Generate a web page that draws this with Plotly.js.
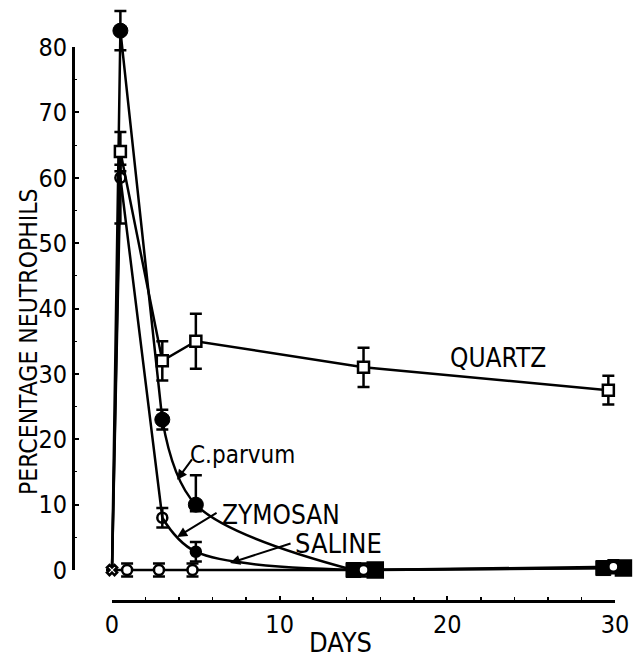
<!DOCTYPE html>
<html>
<head>
<meta charset="utf-8">
<script src="https://cdn.plot.ly/plotly-3.0.1.min.js"></script>
<style>html,body{margin:0;padding:0;background:#fff;}#chart{width:635px;height:659px;}</style>
</head>
<body>
<div id="chart"></div>
<script>
// ---- data ----
const quartzDays = [0, 0.5, 3, 5, 15, 29.6];
const quartzPct = [0, 64, 32, 35, 31, 27.5];
const quartzErr = [0, 3, 3, 4.2, 3, 2.2];

const cparvumDays = [0, 0.5, 3, 5, 14.4, 29.3];
const cparvumPct = [0, 82.5, 23, 10, 0, 0.3];
const cparvumErrPlus = [0, 3, 1.5, 4.5, 1, 1];
const cparvumErrMinus = [0, 3, 1.5, 1, 1, 1];

const zymosanDays = [0, 0.5, 3, 5, 15.7, 30.5];
const zymosanPct = [0, 60, 8, 2.8, 0, 0.3];
const zymosanErrPlus = [0, 2, 1.5, 1.5, 1, 1];
const zymosanErrMinus = [0, 7, 1.5, 1.5, 1, 1];

const salineDays = [0, 0.9, 2.8, 4.8, 15, 29.9];
const salinePct = [0, 0, 0, 0, 0, 0.5];
const salineErr = [0, 1, 1, 1, 1, 1];

const xTickVals = [0, 10, 20, 30];
const yTickVals = [0, 10, 20, 30, 40, 50, 60, 70, 80];

const labels = [
  {text: 'QUARTZ', x: 23.0, y: 32.4, size: 26},
  {text: 'C.parvum', x: 7.8, y: 17.6, size: 24},
  {text: 'ZYMOSAN', x: 10.1, y: 8.4, size: 26},
  {text: 'SALINE', x: 13.5, y: 4.1, size: 27}
];
const arrows = [
  {x: 3.88, y: 13.8, ax: 16, ay: -22},
  {x: 3.88, y: 5.05, ax: 41, ay: -25},
  {x: 7.04, y: 1.07, ax: 62, ay: -20}
];

// ---- styling ----
const FONT = 'DejaVu Sans Condensed, DejaVu Sans, sans-serif';
const K = '#000';
const LW = 2.5;
const CLEAR = 'rgba(0,0,0,0)';

function seg(arr, a, b) { return arr.slice(a, b + 1); }

const traces = [];
function lineTrace(x, y, shape) {
  return {x: x, y: y, mode: 'lines', line: {color: K, width: LW, shape: shape || 'linear', smoothing: 1},
          hoverinfo: 'skip', showlegend: false};
}
traces.push(lineTrace(quartzDays, quartzPct));
traces.push(lineTrace(seg(cparvumDays, 0, 2), seg(cparvumPct, 0, 2)));
traces.push(lineTrace(seg(cparvumDays, 2, 4), seg(cparvumPct, 2, 4), 'spline'));
traces.push(lineTrace(seg(cparvumDays, 4, 5), seg(cparvumPct, 4, 5)));
traces.push(lineTrace(seg(zymosanDays, 0, 2), seg(zymosanPct, 0, 2)));
traces.push(lineTrace(seg(zymosanDays, 2, 4), seg(zymosanPct, 2, 4), 'spline'));
traces.push(lineTrace(seg(zymosanDays, 4, 5), seg(zymosanPct, 4, 5)));
traces.push(lineTrace(salineDays, salinePct));

// markers (day-0 start points carry no marker, except the saline cross)
traces.push({
  x: seg(zymosanDays, 1, 5), y: seg(zymosanPct, 1, 5), mode: 'markers', showlegend: false, cliponaxis: false,
  marker: {symbol: ['circle', 'circle', 'circle', 'square', 'square'], size: [10, 10, 10, 15, 15], opacity: 1,
           color: [CLEAR, CLEAR, K, K, K], line: {color: K, width: LW}},
  error_y: {type: 'data', symmetric: false, array: seg(zymosanErrPlus, 1, 5), arrayminus: seg(zymosanErrMinus, 1, 5),
            color: K, thickness: 2.5, width: 6}
});
traces.push({
  x: seg(cparvumDays, 1, 5), y: seg(cparvumPct, 1, 5), mode: 'markers', showlegend: false, cliponaxis: false,
  marker: {symbol: ['circle', 'circle', 'circle', 'square', 'square'], size: 15, opacity: 1, color: K, line: {color: K, width: 1}},
  error_y: {type: 'data', symmetric: false, array: seg(cparvumErrPlus, 1, 5), arrayminus: seg(cparvumErrMinus, 1, 5),
            color: K, thickness: 2.5, width: 6}
});
traces.push({
  x: seg(quartzDays, 1, 5), y: seg(quartzPct, 1, 5), mode: 'markers', showlegend: false, cliponaxis: false,
  marker: {symbol: 'square', size: 11, opacity: 1, color: '#fff', line: {color: K, width: LW}},
  error_y: {type: 'data', array: seg(quartzErr, 1, 5), color: K, thickness: 2.5, width: 6}
});
traces.push({
  x: salineDays, y: salinePct, mode: 'markers', showlegend: false, cliponaxis: false,
  marker: {symbol: ['x', 'circle', 'circle', 'circle', 'circle', 'circle'], size: [9, 10, 10, 10, 10, 10],
           opacity: 1, color: '#fff', line: {color: K, width: LW}},
  error_y: {type: 'data', array: salineErr, color: K, thickness: 2.5, width: 6}
});
// empty trace that carries the drawn axes
traces.push({x: [], y: [], xaxis: 'x2', yaxis: 'y2', mode: 'markers', showlegend: false});

const annotations = [];
labels.forEach(l => annotations.push({
  x: l.x, y: l.y, xref: 'x', yref: 'y', text: l.text, showarrow: false,
  xanchor: 'center', yanchor: 'middle',
  font: {family: FONT, size: l.size, color: K}
}));
arrows.forEach(a => annotations.push({
  x: a.x, y: a.y, xref: 'x', yref: 'y', text: '', showarrow: true,
  ax: a.ax, ay: a.ay, arrowhead: 2, arrowsize: 1, arrowwidth: 2, arrowcolor: K
}));
annotations.push({
  x: 28 / 635, y: (659 - 342) / 659, xref: 'paper', yref: 'paper', text: 'PERCENTAGE NEUTROPHILS',
  textangle: -90, showarrow: false, xanchor: 'center', yanchor: 'middle',
  font: {family: FONT, size: 24.5, color: K}
});
annotations.push({
  x: 340 / 635, y: 0, xref: 'paper', yref: 'paper', text: 'DAYS',
  showarrow: false, xanchor: 'center', yanchor: 'bottom', borderpad: 0,
  font: {family: FONT, size: 27, color: K}
});

const layout = {
  width: 635, height: 659,
  margin: {l: 0, r: 0, t: 0, b: 0, pad: 0},
  paper_bgcolor: '#fff', plot_bgcolor: 'rgba(0,0,0,0)',
  showlegend: false,
  xaxis: {domain: [0, 1], range: [-6.68, 31.19], visible: false, fixedrange: true},
  yaxis: {domain: [0, 1], range: [-13.61, 87.19], visible: false, fixedrange: true},
  xaxis2: {
    domain: [112 / 635, 615 / 635], range: [0, 30], anchor: 'free', position: (659 - 601) / 659,
    showline: true, linecolor: K, linewidth: 2.5, showgrid: false, zeroline: false,
    tickmode: 'array', tickvals: xTickVals, ticktext: xTickVals.map(String),
    ticks: 'inside', ticklen: 4, tickwidth: 2, tickcolor: K,
    minor: {dtick: 2, ticks: 'inside', ticklen: 3, tickwidth: 1.5, tickcolor: K, showgrid: false},
    tickfont: {family: FONT, size: 25, color: K}, fixedrange: true
  },
  yaxis2: {
    domain: [(659 - 570) / 659, (659 - 47) / 659], range: [0, 80], anchor: 'free', position: 73 / 635,
    showline: true, linecolor: K, linewidth: 2.5, showgrid: false, zeroline: false,
    tickmode: 'array', tickvals: yTickVals, ticktext: yTickVals.map(String),
    ticks: 'inside', ticklen: 4, tickwidth: 2, tickcolor: K,
    minor: {dtick: 5, ticks: 'inside', ticklen: 2, tickwidth: 1, tickcolor: K, showgrid: false},
    tickfont: {family: FONT, size: 25, color: K}, fixedrange: true
  },
  annotations: annotations
};

Plotly.newPlot('chart', traces, layout, {displayModeBar: false, staticPlot: true});
</script>
</body>
</html>
